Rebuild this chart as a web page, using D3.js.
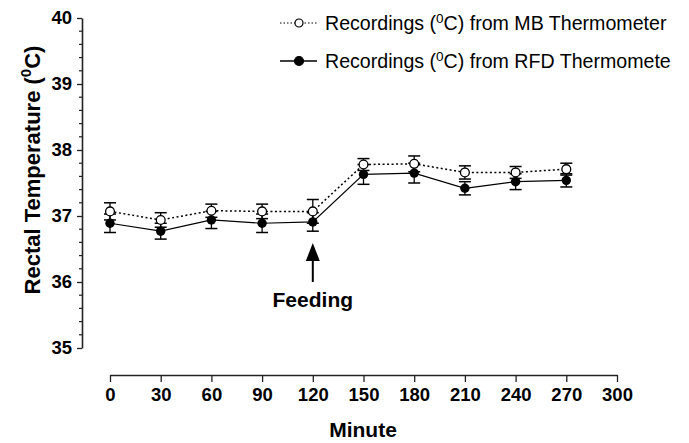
<!DOCTYPE html>
<html><head><meta charset="utf-8">
<script src="https://cdn.jsdelivr.net/npm/d3@7"></script>
<style>body{margin:0;background:#fff}svg{display:block}text{font-family:"Liberation Sans",Arial,sans-serif}</style>
</head><body>
<script>
const minutes = [0, 30, 60, 90, 120, 150, 180, 210, 240, 270];
const mbMean = [37.07, 36.94, 37.08, 37.07, 37.07, 37.78, 37.79, 37.66, 37.66, 37.71];
const mbErr  = [0.13, 0.11, 0.10, 0.11, 0.18, 0.09, 0.12, 0.10, 0.09, 0.09];
const rfdMean = [36.89, 36.77, 36.94, 36.89, 36.91, 37.63, 37.65, 37.42, 37.52, 37.54];
const rfdErr  = [0.14, 0.12, 0.13, 0.14, 0.14, 0.15, 0.15, 0.10, 0.12, 0.10];
const xTicks = [0, 30, 60, 90, 120, 150, 180, 210, 240, 270, 300];
const yTicks = [35, 36, 37, 38, 39, 40];
const legendLabels = ["Recordings (", "C) from MB Thermometer", "C) from RFD Thermomete"];

const W = 689, H = 443;
const svg = d3.select("body").append("svg").attr("width", W).attr("height", H);
const x = d3.scaleLinear().domain([0, 300]).range([110, 617]);
const y = d3.scaleLinear().domain([35, 40]).range([348, 18]);

// Y axis
const yAxis = d3.axisLeft(y).tickValues(yTicks).tickFormat(d3.format("d")).tickSize(5).tickSizeOuter(0).tickPadding(5);
const gy = svg.append("g").attr("transform", "translate(82,0)").call(yAxis);
gy.select(".domain").attr("stroke", "#222").attr("stroke-width", 1.6);
gy.selectAll(".tick line").attr("stroke", "#222").attr("stroke-width", 1.3);
gy.selectAll(".tick text").attr("font-size", 18.5).attr("font-weight", "bold").attr("fill", "#000").attr("font-family", "Liberation Sans, Arial, sans-serif");
const minor = d3.range(35, 40.001, 0.2).filter(v => Math.abs(v - Math.round(v)) > 0.01);
gy.selectAll(".minor").data(minor).enter().append("line").attr("class", "minor")
  .attr("x1", -3).attr("x2", 0).attr("y1", d => y(d)).attr("y2", d => y(d)).attr("stroke", "#222").attr("stroke-width", 1.2);

// X axis
const xAxis = d3.axisBottom(x).tickValues(xTicks).tickSize(7).tickSizeOuter(0).tickPadding(6);
const gx = svg.append("g").attr("transform", "translate(0,375)").call(xAxis);
gx.select(".domain").attr("stroke", "#222").attr("stroke-width", 1.6);
gx.selectAll(".tick line").attr("stroke", "#222").attr("stroke-width", 1.3);
gx.selectAll(".tick text").attr("font-size", 18.5).attr("font-weight", "bold").attr("fill", "#000").attr("font-family", "Liberation Sans, Arial, sans-serif");

// Axis titles
svg.append("text").attr("x", 363).attr("y", 437).attr("text-anchor", "middle")
  .attr("font-size", 21).attr("font-weight", "bold").text("Minute");
const yt = svg.append("text").attr("transform", "translate(40,170) rotate(-90)").attr("text-anchor", "middle")
  .attr("font-size", 22).attr("font-weight", "bold");
yt.append("tspan").text("Rectal Temperature (");
yt.append("tspan").attr("dy", -9).attr("font-size", 15).text("0");
yt.append("tspan").attr("dy", 9).text("C)");

// Series
const data = minutes.map((m, i) => ({m, mb: mbMean[i], mbe: mbErr[i], rfd: rfdMean[i], rfde: rfdErr[i]}));
function errorBars(key, ekey) {
  const g = svg.append("g");
  data.forEach(d => {
    const yt = y(d[key] + d[ekey]), yb = y(d[key] - d[ekey]), cx = x(d.m);
    g.append("line").attr("x1", cx).attr("x2", cx).attr("y1", yt).attr("y2", yb).attr("stroke", "#000").attr("stroke-width", 1.3);
    [yt, yb].forEach(yy => g.append("line").attr("x1", cx - 6).attr("x2", cx + 6).attr("y1", yy).attr("y2", yy).attr("stroke", "#000").attr("stroke-width", 1.5));
  });
}
errorBars("rfd", "rfde");
errorBars("mb", "mbe");

const lineRfd = d3.line().x(d => x(d.m)).y(d => y(d.rfd));
const lineMb = d3.line().x(d => x(d.m)).y(d => y(d.mb));
svg.append("path").datum(data).attr("d", lineRfd).attr("fill", "none").attr("stroke", "#000").attr("stroke-width", 1.2);
svg.append("path").datum(data).attr("d", lineMb).attr("fill", "none").attr("stroke", "#000").attr("stroke-width", 1.5).attr("stroke-dasharray", "2,2.5");

svg.selectAll(".rfdPt").data(data).enter().append("circle").attr("class", "rfdPt")
  .attr("cx", d => x(d.m)).attr("cy", d => y(d.rfd)).attr("r", 4.7).attr("fill", "#000");
svg.selectAll(".mbPt").data(data).enter().append("circle").attr("class", "mbPt")
  .attr("cx", d => x(d.m)).attr("cy", d => y(d.mb)).attr("r", 4.4).attr("fill", "#fff").attr("stroke", "#000").attr("stroke-width", 1.3);

// Feeding arrow
const ax = x(120);
svg.append("line").attr("x1", ax).attr("x2", ax).attr("y1", 258).attr("y2", 282).attr("stroke", "#000").attr("stroke-width", 2);
svg.append("path").attr("d", `M${ax},243 L${ax - 7},261 L${ax + 7},261 Z`).attr("fill", "#000");
svg.append("text").attr("x", ax).attr("y", 307).attr("text-anchor", "middle").attr("font-size", 21).attr("font-weight", "bold").text("Feeding");

// Legend
const legY = [23, 61];
legendLabels.slice(1).forEach((lab, i) => {
  const g = svg.append("g").attr("transform", `translate(0,${legY[i]})`);
  g.append("line").attr("x1", 280).attr("x2", 317).attr("y1", 0).attr("y2", 0).attr("stroke", "#000")
    .attr("stroke-width", i === 0 ? 1 : 1.3).attr("stroke-dasharray", i === 0 ? "1.5,2" : null);
  g.append("circle").attr("cx", 299).attr("cy", 0).attr("r", i === 0 ? 4 : 4.5)
    .attr("fill", i === 0 ? "#fff" : "#000").attr("stroke", "#000").attr("stroke-width", 1.2);
  const t = g.append("text").attr("x", 325).attr("y", 7).attr("font-size", 19.6).attr("fill", "#000");
  t.append("tspan").text(legendLabels[0]);
  t.append("tspan").attr("dy", -7).attr("font-size", 13.5).text("0");
  t.append("tspan").attr("dy", 7).text(lab);
});
</script>
</body></html>
